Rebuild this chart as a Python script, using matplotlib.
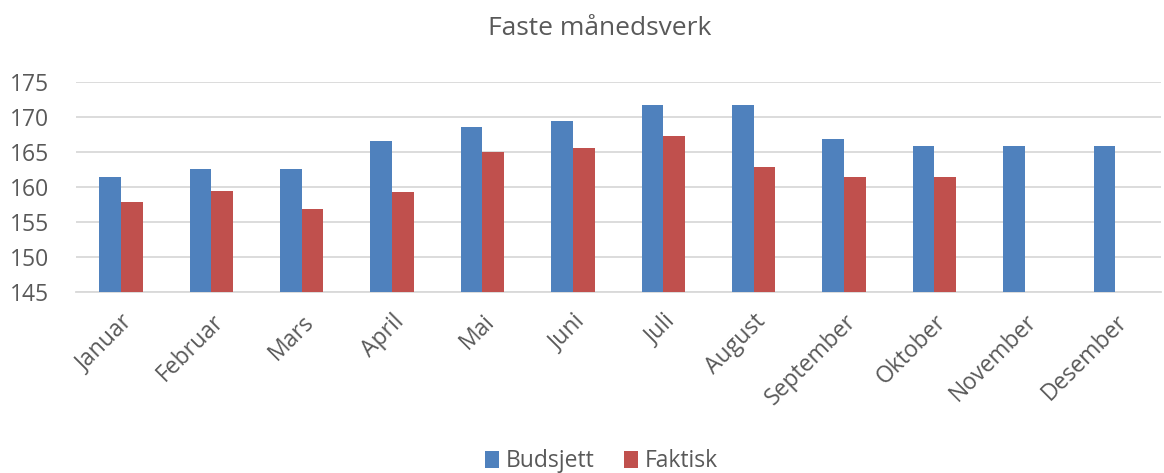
import matplotlib
matplotlib.use("Agg")
import matplotlib.pyplot as plt
import numpy as np

months = ["Januar", "Februar", "Mars", "April", "Mai", "Juni", "Juli",
          "August", "September", "Oktober", "November", "Desember"]
budsjett = [161.4, 162.5, 162.5, 166.5, 168.6, 169.4, 171.7, 171.7, 166.9, 165.9, 165.9, 165.9]
faktisk = [157.8, 159.4, 156.8, 159.2, 165.0, 165.5, 167.3, 162.9, 161.4, 161.4, None, None]
yticks = [145, 150, 155, 160, 165, 170, 175]

plt.rcParams['font.family'] = ['Open Sans', 'DejaVu Sans']
text_color = '#595959'

fig = plt.figure(figsize=(11.64, 4.73), dpi=100)
ax = fig.add_axes([0.065, 0.383, 0.932, 0.444])

x = np.arange(len(months))
w = 0.24
blue = '#4f81bd'
red = '#c0504d'
ax.bar(x - w / 2, budsjett, width=w, color=blue, label='Budsjett', zorder=3)
fx = [xi for xi, v in zip(x, faktisk) if v is not None]
fv = [v for v in faktisk if v is not None]
ax.bar(np.array(fx) + w / 2, fv, width=w, color=red, label='Faktisk', zorder=3)

ax.set_ylim(145, 175)
ax.set_xlim(-0.5, len(months) - 0.5)
ax.set_yticks(yticks)
ax.set_yticklabels([str(t) for t in yticks], fontsize=16.5, color=text_color)
ax.set_xticks(x)
ax.set_xticklabels(months, rotation=45, ha='right', rotation_mode='anchor',
                   fontsize=16.5, color=text_color)
ax.tick_params(axis='both', length=0)
ax.tick_params(axis='y', pad=19)
ax.tick_params(axis='x', pad=13)
ax.grid(axis='y', color='#d9d9d9', linewidth=1.3, zorder=0)
for s in ['top', 'right', 'left']:
    ax.spines[s].set_visible(False)
ax.spines['bottom'].set_color('#d9d9d9')
ax.spines['bottom'].set_linewidth(1.3)

fig.text(0.515, 0.94, 'Faste månedsverk', ha='center', va='center',
         fontsize=19, color=text_color)

leg = fig.legend(loc='center', bbox_to_anchor=(0.517, 0.025), ncol=2, frameon=False,
                 fontsize=16.5, handlelength=0.6, handleheight=0.75, handletextpad=0.3,
                 columnspacing=1.3)
for t in leg.get_texts():
    t.set_color(text_color)

fig.savefig('out.png', dpi=100)
